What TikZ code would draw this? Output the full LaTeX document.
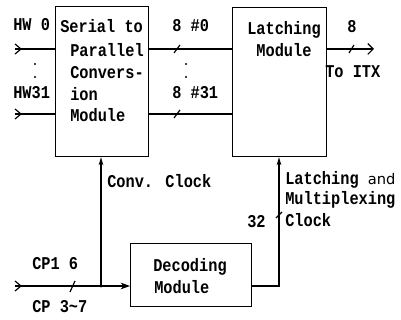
\documentclass[tikz,border=0pt]{standalone}
\usepackage{fontspec}
\newfontfamily\reffont[FakeStretch=0.85]{Liberation Mono}
\newfontfamily\andfont{DejaVu Sans}
\usetikzlibrary{arrows.meta}
\begin{document}
\begin{tikzpicture}[x=0.75pt,y=-0.75pt,
  txt/.style={font=\reffont\bfseries\fontsize{13.5}{15}\selectfont, inner sep=0pt, anchor=west},
  ctxt/.style={font=\reffont\bfseries\fontsize{13.5}{15}\selectfont, inner sep=0pt},
  box/.style={draw, line width=0.9pt, inner sep=0pt, anchor=north west},
  wire/.style={line width=0.9pt},
  uparrow/.style={wire, -{Stealth[length=6pt,width=3.5pt]}},
  dot/.style={circle, fill, inner sep=0pt, minimum size=1.8pt}]
\useasboundingbox (0,0) rectangle (401,320);

% boxes
\node[box, minimum width=69.75pt, minimum height=112.5pt] (serial) at (55,6) {};
\node[box, minimum width=70.5pt, minimum height=111.75pt] (latch) at (232,7) {};
\node[box, minimum width=90.75pt, minimum height=47.25pt] (decode) at (130,243) {};

% box texts
\node[txt] (s1) at (60,26) {Serial to};
\node[txt] (s2) at (70,50) {Parallel};
\node[txt] (s3) at (70,73) {Convers-};
\node[txt] (s4) at (70,94) {ion};
\node[txt] (s5) at (70,115) {Module};
\node[ctxt] (l1) at (284,30) {Latching};
\node[ctxt] (l2) at (284,50) {Module};
\node[txt] (d1) at (153,267) {Decoding};
\node[txt] (d2) at (154,287) {Module};

% inputs
\coordinate (hw0) at (15,49);
\coordinate (hw31) at (15,114);
\node[txt] (thw0) at (13,25) {HW 0};
\node[txt] (thw31) at (13,93) {HW31};
\draw[wire] (hw0) -- (hw0 -| serial.west);
\draw[wire] (hw31) -- (hw31 -| serial.west);
\draw[wire] ([shift={(0,-5)}]hw0) -- ++(6,5) -- ++(-6,5);
\draw[wire] ([shift={(0,-5)}]hw31) -- ++(6,5) -- ++(-6,5);
\node[dot] (dl1) at (35,64) {};
\node[dot] (dl2) at (35,77) {};

% serial -> latch
\draw[wire] (serial.east |- hw0) -- (latch.west |- hw0);
\draw[wire] (serial.east |- hw31) -- (latch.west |- hw31);
\draw[wire] (174,53) -- (180,45);
\draw[wire] (174,118) -- (180,110);
\node[txt] (t80) at (172,26) {8 \#0};
\node[txt] (t831) at (172,93) {8 \#31};
\node[dot] (dm1) at (186,64) {};
\node[dot] (dm2) at (186,77) {};

% output
\coordinate (itx) at (374,49);
\draw[wire, -{Straight Barb[length=4pt,width=8pt]}] (latch.east |- hw0) -- (itx);
\draw[wire] (349,53) -- (354,45);
\node[ctxt] (t8) at (352,27) {8};
\node[txt] (titx) at (325,72) {To ITX};

% clock input
\coordinate (cp) at (15,286);
\coordinate (junc) at (101,286);
\draw[wire] ([shift={(0,-5)}]cp) -- ++(6,5) -- ++(-6,5);
\draw[wire, -{Stealth[length=7pt,width=5pt,inset=2pt]}] (cp) -- (cp -| decode.west);
\fill (junc) circle (1.3pt);
\draw[wire] (70,292) -- (75,281);
\node[txt] (tcp1) at (32,264) {CP1 6};
\node[txt] (tcp3) at (32,307) {CP 3\char`\~7};

% conv clock
\draw[uparrow] (junc) -- (junc |- serial.south);
\node[txt] (tconv) at (107,181) {Conv. Clock};

% latching clock
\coordinate (lc) at (279,286);
\draw[uparrow] (decode.east |- lc) -- (lc) -- (lc |- latch.south);
\draw[wire] (276,218) -- (282,212);
\node[txt] (t32) at (247,222) {32};
\node[txt] (tl1) at (285,180) {Latching {\andfont\mdseries\fontsize{11}{13}\selectfont and}};
\node[txt] (tl2) at (285,200) {Multiplexing};
\node[txt] (tl3) at (285,220) {Clock};
\end{tikzpicture}
\end{document}
